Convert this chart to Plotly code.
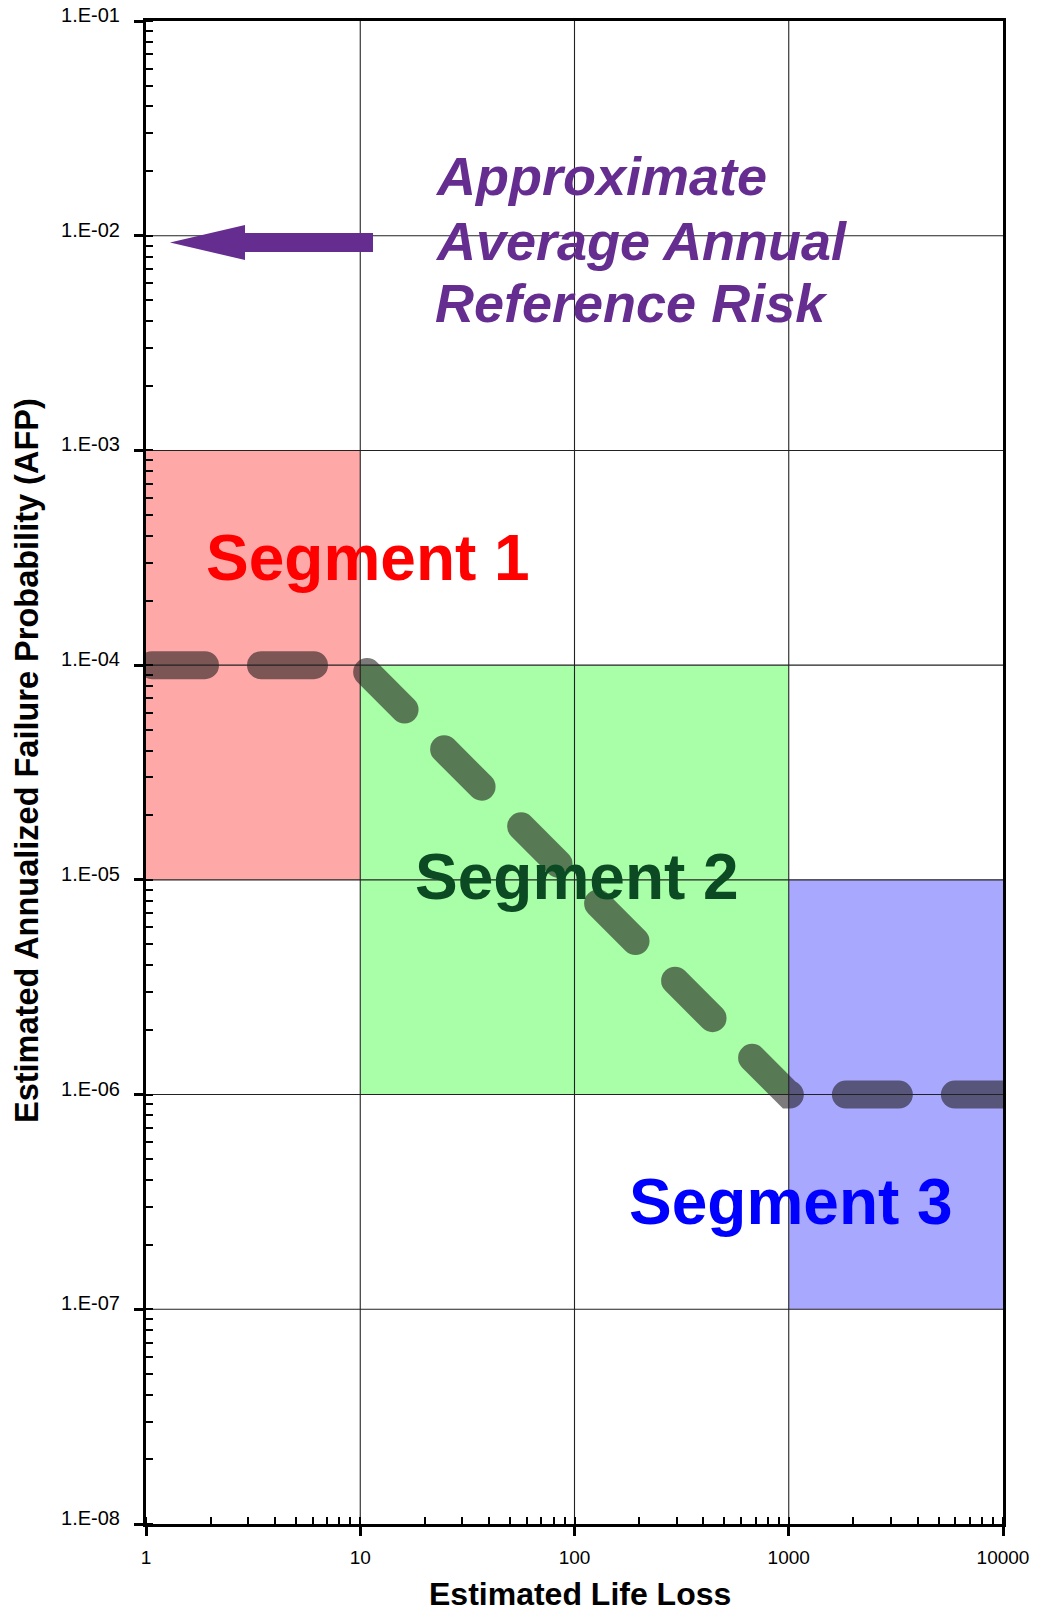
import plotly.graph_objects as go

# Axis ticks
life_loss_ticks = [1, 10, 100, 1000, 10000]
life_loss_labels = ["1", "10", "100", "1000", "10000"]
afp_ticks = [1e-8, 1e-7, 1e-6, 1e-5, 1e-4, 1e-3, 1e-2, 1e-1]
afp_labels = ["1.E-08", "1.E-07", "1.E-06", "1.E-05", "1.E-04", "1.E-03", "1.E-02", "1.E-01"]

# Risk segments (life loss range x AFP range)
segment_names = ["Segment 1", "Segment 2", "Segment 3"]
segment_x0 = [1, 10, 1000]
segment_x1 = [10, 1000, 10000]
segment_y0 = [1e-5, 1e-6, 1e-7]
segment_y1 = [1e-3, 1e-4, 1e-5]

# Reference risk guideline
guide_x = [1, 10, 1000, 10000]
guide_y = [1e-4, 1e-4, 1e-6, 1e-6]

FONT = "Arial, 'Liberation Sans', sans-serif"
W, H = 1037, 1612
ML, MR, MT, MB = 146, 34, 21, 88
PW, PH = W - ML - MR, H - MT - MB

fill_colors = ["#FFA8A8", "#A8FFA8", "#A8A8FF"]
text_colors = ["#FF0000", "#0B4A22", "#0000FF"]


def px(x):
    return (x - ML) / PW


def py(y):
    return 1 - (y - MT) / PH


fig = go.Figure()

for name, x0, x1, y0, y1, c in zip(segment_names, segment_x0, segment_x1,
                                   segment_y0, segment_y1, fill_colors):
    fig.add_trace(go.Scatter(
        x=[x0, x1, x1, x0, x0], y=[y0, y0, y1, y1, y0],
        mode="lines", fill="toself", fillcolor=c,
        line=dict(width=0), hoverinfo="skip", name=name))

fig.add_trace(go.Scatter(
    x=guide_x, y=guide_y, mode="lines",
    line=dict(color="rgba(30,25,25,0.58)", width=28, dash="53px,56px"),
    hoverinfo="skip", name="guide"))

# grid lines drawn over the shaded segments
for v in life_loss_ticks[1:-1]:
    fig.add_trace(go.Scatter(x=[v, v], y=[afp_ticks[0], afp_ticks[-1]], mode="lines",
                             line=dict(color="#222", width=1.1), hoverinfo="skip"))
for v in afp_ticks[1:-1]:
    fig.add_trace(go.Scatter(x=[life_loss_ticks[0], life_loss_ticks[-1]], y=[v, v], mode="lines",
                             line=dict(color="#222", width=1.1), hoverinfo="skip"))

axis_common = dict(
    type="log", showgrid=False, zeroline=False, automargin=False,
    showline=True, linecolor="black", linewidth=3, mirror=True,
    ticks="outside", ticklen=9, tickwidth=3, tickcolor="black",
    minor=dict(ticks="inside", ticklen=7, tickwidth=2, tickcolor="black",
               dtick="D1", showgrid=False),
)

fig.update_xaxes(range=[0, 4], tickvals=life_loss_ticks, ticktext=life_loss_labels,
                 ticklabelstandoff=5, tickfont=dict(family=FONT, size=19, color="black"),
                 **axis_common)
fig.update_yaxes(range=[-8, -1], tickvals=afp_ticks, ticktext=afp_labels,
                 ticklabelstandoff=10, ticklabelshift=-6,
                 tickfont=dict(family=FONT, size=20, color="black"), **axis_common)

annotations = []
seg_centers = [(368, 558), (577, 877), (791, 1202)]
for name, (cx, cy), c in zip(segment_names, seg_centers, text_colors):
    annotations.append(dict(
        text=f"<b>{name}</b>", xref="paper", yref="paper", x=px(cx), y=py(cy),
        xanchor="center", yanchor="middle", showarrow=False,
        font=dict(family=FONT, size=64, color=c)))

purple = "#662D91"
for line, cy in zip(["Approximate", "Average Annual", "Reference Risk"], [176, 241, 303]):
    annotations.append(dict(
        text=f"<b><i>{line}</i></b>", xref="paper", yref="paper", x=px(433), y=py(cy),
        xanchor="left", yanchor="middle", showarrow=False,
        font=dict(family=FONT, size=54, color=purple)))

annotations.append(dict(
    text="<b>Estimated Life Loss</b>", xref="paper", yref="paper",
    x=px(580), y=py(1594), xanchor="center", yanchor="middle", showarrow=False,
    font=dict(family=FONT, size=32, color="black")))
annotations.append(dict(
    text="<b>Estimated Annualized Failure Probability (AFP)</b>", xref="paper", yref="paper",
    x=px(27), y=py(761), xanchor="center", yanchor="middle", showarrow=False,
    textangle=-90, font=dict(family=FONT, size=32.5, color="black")))

# left-pointing arrow toward the AFP axis
arrow_pts = [(170, 242.5), (245, 225), (245, 233), (373, 233), (373, 252), (245, 252), (245, 260)]
arrow_path = "M " + " L ".join(f"{px(a):.5f},{py(b):.5f}" for a, b in arrow_pts) + " Z"

fig.update_layout(
    width=W, height=H,
    margin=dict(l=ML, r=MR, t=MT, b=MB, pad=0, autoexpand=False),
    plot_bgcolor="white", paper_bgcolor="white",
    showlegend=False,
    annotations=annotations,
    shapes=[dict(type="path", xref="paper", yref="paper", path=arrow_path,
                 fillcolor=purple, line=dict(width=0), layer="above")],
)

post = """
document.querySelectorAll('.scatterlayer path.js-line').forEach(function(p){
  if (parseFloat(p.style.strokeWidth) >= 20) {
    p.style.strokeLinecap = 'round';
    p.style.strokeDashoffset = '103';
  }
});
"""

fig.write_html("out.html", post_script=post, config={"displayModeBar": False})
